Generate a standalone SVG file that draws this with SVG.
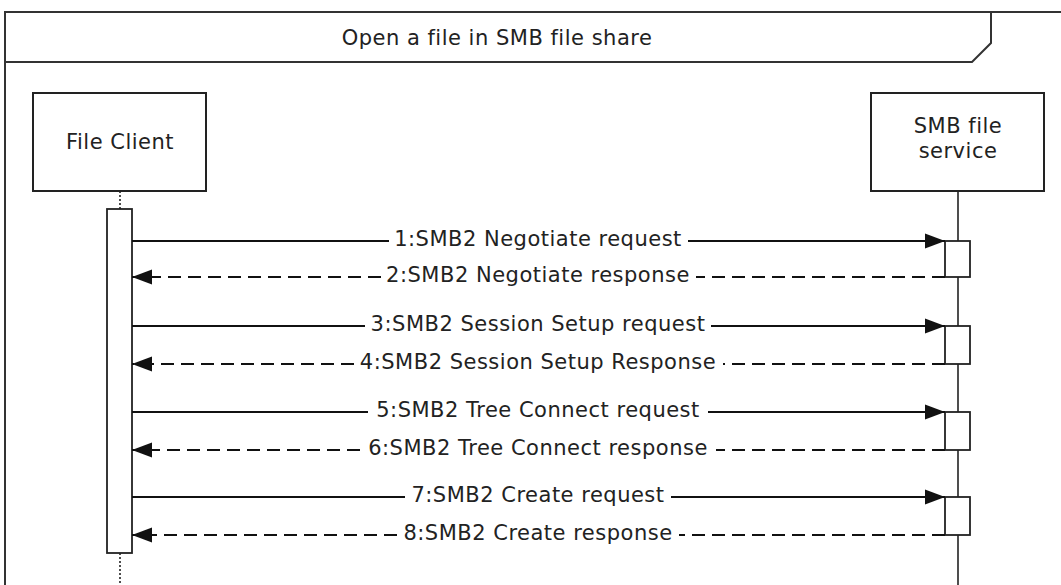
<svg xmlns="http://www.w3.org/2000/svg" width="1061" height="585" viewBox="0 0 1061 585">
<style>
text{font-family:"DejaVu Sans","Verdana",sans-serif;font-size:21px;letter-spacing:0.5px;fill:#222;text-anchor:middle}
.frame{fill:none;stroke:#333;stroke-width:2}
.box{fill:#fff;stroke:#222;stroke-width:2}
.act{fill:#fff;stroke:#222;stroke-width:1.8}
.life{stroke:#222;stroke-width:1.6;fill:none}
.dotted{stroke-dasharray:2 2}
.req{stroke:#111;stroke-width:1.8;fill:none}
.resp{stroke:#111;stroke-width:1.8;fill:none;stroke-dasharray:13 7}
</style>
<defs>
<marker id="ah" markerUnits="userSpaceOnUse" markerWidth="22" markerHeight="18" refX="20" refY="9" orient="auto">
<path d="M0,1.5 L20,9 L0,16.5 Z" fill="#111"/>
</marker>
</defs>
<rect width="1061" height="585" fill="#fff"/>
<g id="frame">
<path class="frame" d="M1061,12 L5,12 L5,585"/>
<path class="frame" d="M5,62 L972,62 L991,43 L991,12"/>
<text x="497" y="45">Open a file in SMB file share</text>
</g>
<g id="file-client">
<rect class="box" x="33" y="93" width="173" height="98"/>
<text x="120" y="149">File Client</text>
<path class="life dotted" d="M120,191 L120,209"/>
<path class="life dotted" d="M120,553 L120,585"/>
<rect class="act" x="107" y="209" width="25" height="344"/>
</g>
<g id="smb-file-service">
<rect class="box" x="871" y="93" width="173" height="98"/>
<text x="958" y="133">SMB file</text>
<text x="958" y="158">service</text>
<path class="life" d="M958,191 L958,585"/>
<rect class="act" x="945" y="241" width="25" height="36"/>
<rect class="act" x="945" y="326" width="25" height="38"/>
<rect class="act" x="945" y="412" width="25" height="38"/>
<rect class="act" x="945" y="497" width="25" height="38"/>
</g>
<g id="connectors">
<path class="req" d="M132,241 L389,241 M688,241 L945,241" marker-end="url(#ah)"/>
<text x="538" y="246">1:SMB2 Negotiate request</text>
<path class="resp" d="M945,277 L696,277 M381,277 L132,277" marker-end="url(#ah)"/>
<text x="538" y="282">2:SMB2 Negotiate response</text>
<path class="req" d="M132,326 L365,326 M711,326 L945,326" marker-end="url(#ah)"/>
<text x="538" y="331">3:SMB2 Session Setup request</text>
<path class="resp" d="M945,364 L723,364 M354,364 L132,364" marker-end="url(#ah)"/>
<text x="538" y="369">4:SMB2 Session Setup Response</text>
<path class="req" d="M132,412 L368,412 M708,412 L945,412" marker-end="url(#ah)"/>
<text x="538" y="417">5:SMB2 Tree Connect request</text>
<path class="resp" d="M945,450 L716,450 M360,450 L132,450" marker-end="url(#ah)"/>
<text x="538" y="455">6:SMB2 Tree Connect response</text>
<path class="req" d="M132,497 L405,497 M671,497 L945,497" marker-end="url(#ah)"/>
<text x="538" y="502">7:SMB2 Create request</text>
<path class="resp" d="M945,535 L679,535 M397,535 L132,535" marker-end="url(#ah)"/>
<text x="538" y="540">8:SMB2 Create response</text>
</g>
</svg>
